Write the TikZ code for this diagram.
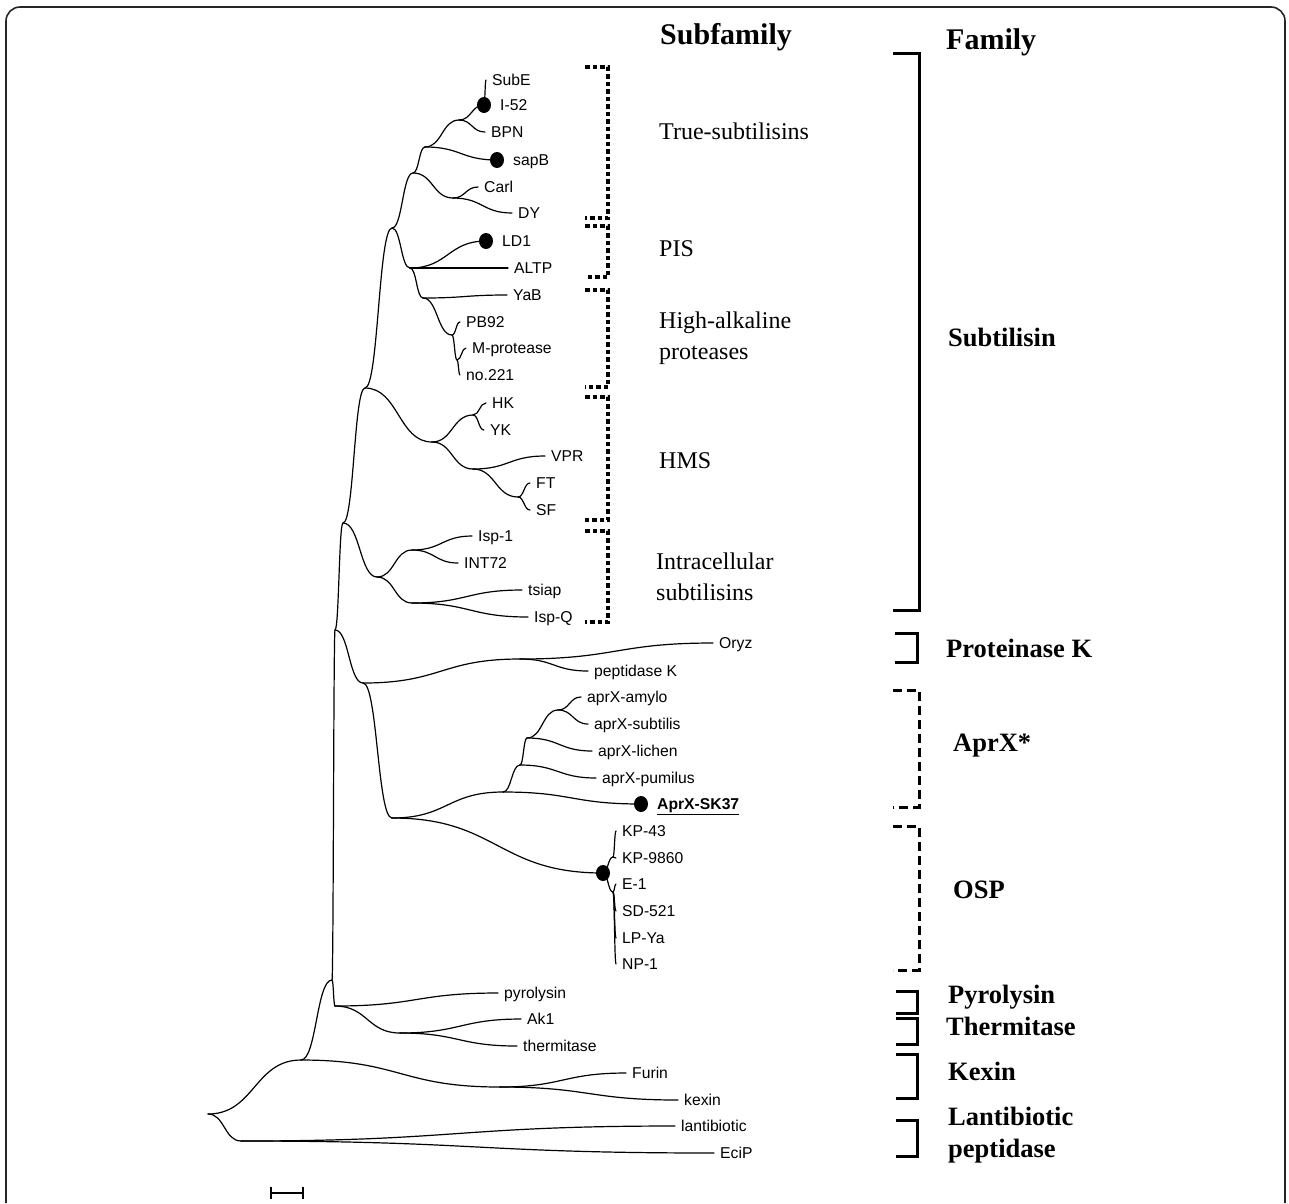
\documentclass[tikz,border=0pt]{standalone}
\usepackage{fontspec}
\setmainfont{Liberation Serif}
\setsansfont{Liberation Sans}
\usetikzlibrary{calc}
\newcommand{\branch}[2]{%
  \path ($(#1)!0.5!(#2)$) coordinate (mid);
  \draw[twig] (#1) .. controls (#1 -| mid) and (#2 -| mid) .. (#2);}
\newcommand{\leaffont}{\sffamily\fontsize{15.7}{18}\selectfont}

\begin{document}
\begin{tikzpicture}[x=1pt,y=-1pt,
  twig/.style={line width=1.2pt,line cap=round},
  leaf/.style={anchor=west,inner sep=0pt,text height=11pt,text depth=0pt,
               xshift=6pt,font=\leaffont},
  dotleaf/.style={leaf,xshift=10pt},
  head/.style={anchor=west,inner sep=0pt,font=\bfseries\fontsize{30}{34}\selectfont},
  subfam/.style={anchor=west,inner sep=0pt,align=left,
                 font=\fontsize{24}{31}\selectfont},
  fam/.style={anchor=west,inner sep=0pt,align=left,
              font=\bfseries\fontsize{26.5}{32}\selectfont},
  dotbr/.style={line width=4.5pt,dash pattern=on 4.5pt off 3pt},
  solbr/.style={line width=3pt},
  dashbr/.style={line width=3pt,dash pattern=on 9pt off 5pt},
  dot/.style={fill=black},
]
\useasboundingbox (0,0) rectangle (1289,1203);
\draw[line width=1.6pt,black!85,rounded corners=14pt]
  (6,1203) -- (6,7) -- (1285,7) -- (1285,1203);

% inner nodes of the tree
\foreach \n/\x/\y in {R/208/1114, L/241/1141, A/301/1060, B/332/980,
    P/335/1006, Thm/400/1033, Kex/500/1087, E/335/630, F/363/683,
    D/343/523, G/365/388, T/392/228, U/413/173, V1/425/147, X/459/120,
    Y/484/105, CD/453/198, W/410/268, Z/423/298, PB/452/335, M/457/360,
    H/432/442, HY/473/415, V/473/469, FS/518/497, I/377/577, J/412/550,
    K/412/603, PKO/520/659, AO/392/818, AX/503/792, a1/520/765,
    a2/527/738, a3/558/710, OS/603/873, o1/613/857, o2/613/892}
  \coordinate (\n) at (\x,\y);

% leaves and their labels
\foreach \n/\x/\y/\t in {SubE/486/80/SubE, BPN/485/132/BPN,
    Carl/478/187/Carl, DY/512/213/DY, ALTP/508/268/ALTP,
    YaB/507/295/YaB, PBnn/460/322/PB92, Mprot/466/348/M-protease,
    nott/460/375/no.221, HK/486/403/HK, YK/484/430/YK, VPR/545/456/VPR,
    FT/530/483/FT, SF/530/510/SF, Ispone/472/536/Isp-1, INT/458/563/INT72,
    tsiap/522/590/tsiap, IspQ/528/617/Isp-Q, Oryz/713/643/Oryz,
    pepK/588/671/peptidase K, amylo/581/697/aprX-amylo,
    subt/588/724/aprX-subtilis, lichen/592/751/aprX-lichen,
    pumil/596/778/aprX-pumilus, KPa/616/831/KP-43, KPb/616/858/KP-9860,
    Eone/616/884/E-1, SD/616/911/SD-521, LP/616/938/LP-Ya, NP/616/964/NP-1,
    pyro/498/993/pyrolysin, Akone/521/1019/Ak1, therm/517/1046/thermitase,
    Furin/626/1073/Furin, kexin/678/1100/kexin, lanti/675/1126/lantibiotic,
    EciP/714/1153/EciP}
  {\coordinate (\n) at (\x,\y);
   \node[leaf] (l\n) at (\n) {\t};}
% leaves marked with a dot
\coordinate (sapB) at (497,160);
\coordinate (LDone) at (486,241);
\coordinate (SK) at (641,804);
\node[dotleaf] (lIfs) at (Y) {I-52};
\node[dotleaf] (lsapB) at (sapB) {sapB};
\node[dotleaf] (lLDone) at (LDone) {LD1};
\node[dotleaf] (lSK) at (SK) {\underline{\textbf{AprX-SK37}}};

% branches
\foreach \a/\b in {R/A, R/L, L/lanti, L/EciP, A/B, A/Kex, Kex/Furin,
    Kex/kexin, B/E, B/P, P/pyro, P/Thm, Thm/Akone, Thm/therm, E/D, E/F,
    F/PKO, PKO/Oryz, PKO/pepK, F/AO, AO/AX, AO/OS, AX/a1, AX/SK, a1/a2,
    a1/pumil, a2/a3, a2/lichen, a3/amylo, a3/subt, OS/o1, OS/o2, o1/KPa,
    o1/KPb, o2/Eone, o2/SD, o2/LP, o2/NP, D/G, D/I, I/J, I/K, J/Ispone,
    J/INT, K/tsiap, K/IspQ, G/T, G/H, H/HY, H/V, HY/HK, HY/YK, V/VPR,
    V/FS, FS/FT, FS/SF, T/U, T/W, U/V1, U/CD, V1/X, V1/sapB, X/Y, X/BPN,
    Y/SubE, CD/Carl, CD/DY, W/LDone, W/ALTP, W/Z, Z/YaB, Z/PB, PB/PBnn,
    PB/M, M/Mprot, M/nott}
  \branch{\a}{\b};

% marked sequences
\foreach \n in {Y, sapB, LDone, SK, OS}
  \fill[dot] (\n) ellipse (7 and 8);

% scale bar
\draw[line width=1.2pt] (271,1187) -- (271,1199) (271,1193) -- (303,1193)
  (303,1187) -- (303,1199);

% headers
\node[head] (hsub) at (660,37) {Subfamily};
\node[head] (hfam) at (946,42) {Family};

% subfamily brackets
\foreach \ya/\yb in {67/218, 226/277, 290/387, 397/520, 531/622}
  \draw[dotbr] (585,\ya) -- (608,\ya) -- (608,\yb) -- (585,\yb);
\node[subfam] (sTrue) at (659,131) {True-subtilisins};
\node[subfam] (sPIS) at (659,249) {PIS};
\node[subfam] (sHA) at (659,338) {High-alkaline\\proteases};
\node[subfam] (sHMS) at (659,461) {HMS};
\node[subfam] (sIntra) at (656,577) {Intracellular\\subtilisins};

% family brackets
\draw[solbr] (893,53) -- (919,53) -- (919,610) -- (893,610);
\draw[solbr] (895,633) -- (917,633) -- (917,662) -- (895,662);
\draw[dashbr] (893,690) -- (919,690) -- (919,807) -- (893,807);
\draw[dashbr] (893,826) -- (919,826) -- (919,970) -- (893,970);
\foreach \ya/\yb in {991/1013, 1018/1044, 1054/1098, 1120/1156}
  \draw[solbr] (896,\ya) -- (917,\ya) -- (917,\yb) -- (896,\yb);
\node[fam] (fSub) at (948,337) {Subtilisin};
\node[fam] (fPK) at (946,648) {Proteinase K};
\node[fam] (fAprX) at (953,746) {AprX*};
\node[fam] (fOSP) at (953,890) {OSP};
\node[fam] (fPyr) at (948,997) {Pyrolysin};
\node[fam] (fTherm) at (946,1026) {Thermitase};
\node[fam] (fKex) at (948,1071) {Kexin};
\node[fam] (fLanti) at (948,1135) {Lantibiotic\\peptidase};
\end{tikzpicture}
\end{document}
